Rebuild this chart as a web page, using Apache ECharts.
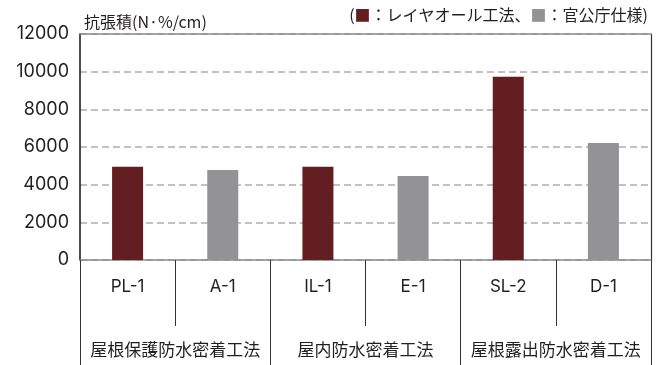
<!DOCTYPE html>
<html>
<head>
<meta charset="utf-8">
<script src="https://cdn.jsdelivr.net/npm/echarts@6/dist/echarts.min.js"></script>
<style>
  html, body { margin: 0; padding: 0; background: #fff; }
  #chart { width: 667px; height: 365px; }
</style>
</head>
<body>
<div id="chart"></div>
<script>
// Products (bar categories), their method groups and tensile-product values
const codes = ['PL-1', 'A-1', 'IL-1', 'E-1', 'SL-2', 'D-1'];
const groups = ['屋根保護防水密着工法', '屋内防水密着工法', '屋根露出防水密着工法'];
const values = [4950, 4780, 4950, 4460, 9730, 6210];
const kinds = ['layer', 'gov', 'layer', 'gov', 'layer', 'gov'];
const yTicks = [0, 2000, 4000, 6000, 8000, 10000, 12000];
const unitLabel = '抗張積(N·%/cm)';
const legendLayer = 'レイヤオール工法';
const legendGov = '官公庁仕様';

const RED = '#621e20';
const GRAY = '#939396';
const TEXT = '#231f20';
const LATIN = "Inter, 'Noto Sans CJK JP', sans-serif";
const CJK = "'Noto Sans CJK JP', Inter, sans-serif";

const chart = echarts.init(document.getElementById('chart'));

chart.setOption({
  animation: false,
  backgroundColor: '#fff',
  title: [
    {
      text: unitLabel,
      left: 79, top: 9,
      textStyle: { fontFamily: CJK, fontSize: 16, fontWeight: 'normal', color: TEXT }
    },
    {
      text: '{p|(}{a|■}{t|：' + legendLayer + '、}{b|■}{t|：' + legendGov + '}{p|)}',
      right: 14, top: 2,
      textStyle: {
        fontFamily: CJK, fontSize: 16, fontWeight: 'normal', color: TEXT,
        rich: {
          p: { fontFamily: CJK, fontSize: 16, color: TEXT },
          t: { fontFamily: CJK, fontSize: 16, color: TEXT },
          a: { fontFamily: CJK, fontSize: 16, color: RED },
          b: { fontFamily: CJK, fontSize: 16, color: GRAY }
        }
      }
    }
  ],
  grid: { left: 80, right: 16, top: 34, bottom: 105, containLabel: false },
  xAxis: [
    {
      type: 'category',
      data: codes,
      position: 'bottom',
      axisLine: { show: true, lineStyle: { color: '#8a8a8a', width: 1.5 } },
      axisTick: { show: true, inside: false, length: 66, lineStyle: { color: '#333', width: 1 } },
      axisLabel: { margin: 18, interval: 0, fontFamily: LATIN, fontSize: 17, color: TEXT },
      splitLine: { show: false }
    },
    {
      type: 'category',
      data: groups,
      position: 'bottom',
      axisLine: { show: false },
      axisTick: { show: true, length: 105, lineStyle: { color: '#333', width: 1 } },
      axisLabel: { margin: 81, interval: 0, fontFamily: CJK, fontSize: 17, color: TEXT },
      splitLine: { show: false }
    },
    {
      type: 'category',
      data: codes,
      position: 'top',
      axisLine: { show: true, lineStyle: { color: '#8a8a8a', width: 1.5 } },
      axisTick: { show: false },
      axisLabel: { show: false }
    }
  ],
  yAxis: [
    {
      type: 'value',
      min: yTicks[0],
      max: yTicks[yTicks.length - 1],
      interval: yTicks[1] - yTicks[0],
      axisLine: { show: true, lineStyle: { color: '#111', width: 1.5 } },
      axisTick: { show: false },
      axisLabel: {
        margin: 11, fontFamily: LATIN, fontSize: 18, color: TEXT,
        formatter: (v) => String(v)
      },
      splitLine: { show: true, lineStyle: { color: '#adadad', width: 1.5, type: [7, 4] } }
    },
    {
      type: 'value',
      position: 'right',
      min: yTicks[0],
      max: yTicks[yTicks.length - 1],
      interval: yTicks[1] - yTicks[0],
      axisLine: { show: true, lineStyle: { color: '#333', width: 1.2 } },
      axisTick: { show: false },
      axisLabel: { show: false },
      splitLine: { show: false }
    }
  ],
  series: [
    {
      type: 'bar',
      xAxisIndex: 0,
      yAxisIndex: 0,
      barWidth: 31,
      data: values.map((v, i) => ({
        value: v,
        itemStyle: { color: kinds[i] === 'layer' ? RED : GRAY }
      }))
    }
  ]
});
</script>
</body>
</html>
